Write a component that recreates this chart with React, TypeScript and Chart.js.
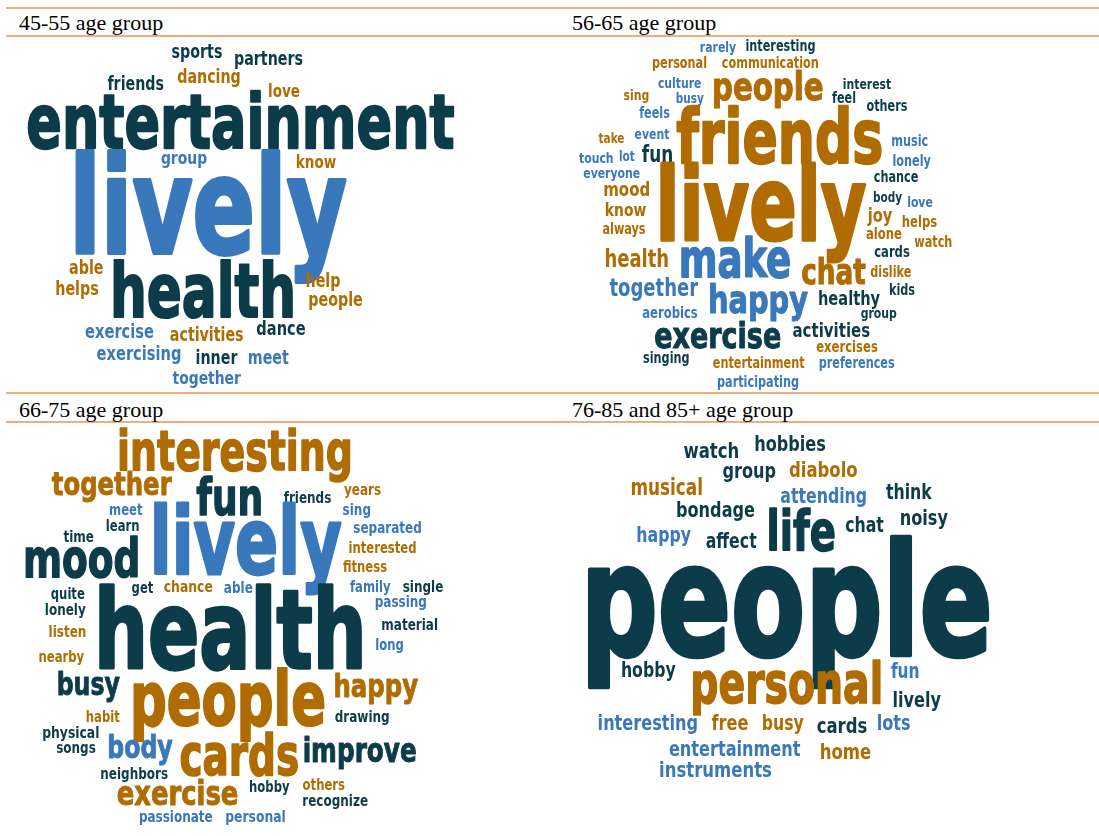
import React, { useEffect, useRef } from "react";
import { Chart, registerables } from "chart.js";

Chart.register(...registerables);

// ---------- data: words, weights (font size), colour group, cloud position ----------
// colour groups: D = dark teal, B = blue, O = orange
const p1Words = ["sports","partners","friends","dancing","love","entertainment","group","know","lively","able","helps","health","help","people","exercise","activities","dance","exercising","inner","meet","together"];
const p1Weights = [19,19,19,19,18,70,18.5,18,123,19,19,69,19,19,19.5,19,19.5,19.5,19,19,18.5];
const p1Groups = ["D","D","D","O","O","D","B","O","B","O","O","D","O","O","B","O","D","B","D","B","B"];
const p1X = [197,268.5,135.7,209,284,240.5,184,316,208,86.3,77,203,323,335.5,119.5,206.7,281,139,216.5,268.3,206.7];
const p1Y = [58.3,65,90,83.3,97.3,148.3,164,167.7,253.3,274,295,316.7,286.7,306,338.3,341,335,360,364,364,384];

const p2Words = ["rarely","interesting","personal","communication","culture","people","interest","sing","busy","feel","others","feels","friends","take","event","music","touch","lot","fun","lonely","everyone","chance","lively","mood","body","love","know","joy","helps","always","alone","watch","health","make","cards","chat","dislike","together","kids","happy","healthy","aerobics","group","exercise","activities","exercises","singing","entertainment","preferences","participating"];
const p2Weights = [14.5,15,15,15,14.5,39,14.5,14.5,14,15,15,15,69.5,14,14.5,15,14.5,14,22.5,15,14.5,15,93.5,20,14,14.5,18.5,19.5,15.5,15,15.5,15,24,49.5,15.5,35,15,24,15,38.5,19.5,15.5,14.5,36,20,15.5,15,15,15,15];
const p2Groups = ["B","D","O","O","B","O","D","O","B","D","D","B","O","O","B","B","B","B","D","B","B","D","O","O","D","B","O","O","O","O","O","O","O","B","D","O","O","B","D","B","D","B","D","D","D","O","D","O","B","B"];
const p2X = [718,780.5,679.5,770.3,679.7,767.8,867,636.3,689.7,844,887,654.5,779.7,611.5,652,909.7,596.3,626.8,657.5,911.7,611.7,896,761,626.7,887.5,920,625.5,880,919.5,624,884,933.3,636.8,735,892,833.5,890.8,653.8,902,758,849,670,878.8,717.7,831.3,847,666.3,758.7,856.7,758];
const p2Y = [51.7,50.7,68.3,68.3,88.3,100,89,100,103.3,103.3,111,118.3,163.3,143.3,139,146,163.3,161,161.7,165.7,178.3,181.7,240,196,201.7,206.7,216,221.7,227.3,234.3,239.3,247.3,266.7,276.7,257.3,284,277.3,296,295,313.3,305,317.7,318.3,348.3,337.3,351.7,363.3,368.3,367.7,386.7];

const p3Words = ["interesting","together","fun","friends","years","meet","sing","learn","separated","time","lively","interested","mood","fitness","get","chance","able","family","single","quite","passing","lonely","health","material","listen","long","nearby","busy","people","happy","habit","drawing","physical","songs","body","cards","improve","neighbors","exercise","hobby","others","recognize","passionate","personal"];
const p3Weights = [50.5,32.5,48,16,16,15.5,16,15.5,16,16,85,15.5,50,15.5,15.5,16.5,16,15.5,16,15.5,16,16,101,16,16,15.5,15.5,31.5,68.5,32.5,15.5,16,16.5,16,31.5,52,33,16,34.5,15.5,15.5,16,16,16.5];
const p3Groups = ["O","O","D","D","O","B","B","D","B","D","B","O","D","O","D","O","B","B","D","D","B","D","D","D","O","B","O","D","O","O","O","D","D","D","B","O","D","D","O","D","O","D","B","B"];
const p3X = [235,111.7,229.7,307.5,362.5,125.8,356.8,122.7,387.5,78.7,245.8,382.5,81.7,365,142.5,188.3,238.3,370.3,423,67.8,400.8,65.3,230.3,409.7,67.5,389.5,61.3,88.3,228,375.8,102.8,362.2,70.8,76,140,239.3,359.7,134.2,177.5,269.3,323.8,335.2,175.8,255.5];
const p3Y = [470,495,515,503.3,495,515,515,531,533.3,541.7,574,553.3,577,571.7,593.3,591.7,593.3,591.7,591.7,599.3,606.7,615,668.3,630,637.3,650,661.7,695,725,696.7,721.7,721.7,738.3,753.3,758.3,775,761.7,779.3,805,791.7,790,806,821.7,821.7];

const p4Words = ["watch","hobbies","group","diabolo","musical","attending","think","bondage","life","chat","noisy","happy","affect","people","hobby","personal","fun","lively","interesting","free","busy","cards","lots","entertainment","home","instruments"];
const p4Weights = [22,21.5,21.5,22,22.5,21,21,21.5,51.5,21,21.5,21,21,144,21,52.5,20.5,21.5,21.5,21.5,21,22,21.5,21.5,22,22];
const p4Groups = ["D","D","D","O","O","B","D","D","D","D","D","B","D","D","D","O","B","D","B","O","O","D","B","B","O","B"];
const p4X = [711.3,790,749.3,823.3,666.7,823.7,908.8,715.5,801.3,864.5,923.8,663.7,731.2,786.7,648.3,786.7,905.2,916.7,647.8,730,782.8,842,893.7,734.7,845.5,715.5];
const p4Y = [458.3,451,478.3,476.7,495,503.3,499,516.7,550,532.3,525,541.7,547.7,655,677.3,703.3,678.3,707.3,730,730,730,733.3,730,755.7,759.3,777.3];

const panelTitles = ["45-55 age group", "56-65 age group", "66-75 age group", "76-85 and 85+ age group"];

// ---------- styles ----------
const GROUP_COLORS: Record<string, string> = { D: "#0C3B49", B: "#3A78BC", O: "#B06C00" };
const WORD_FONT = "'DejaVu Sans', 'Liberation Sans', sans-serif";
const SQUEEZE_X = 0.75;
const W = 1099;
const H = 836;

const panels = [
  { words: p1Words, weights: p1Weights, groups: p1Groups, xs: p1X, ys: p1Y },
  { words: p2Words, weights: p2Weights, groups: p2Groups, xs: p2X, ys: p2Y },
  { words: p3Words, weights: p3Weights, groups: p3Groups, xs: p3X, ys: p3Y },
  { words: p4Words, weights: p4Weights, groups: p4Groups, xs: p4X, ys: p4Y },
];

const wordPlugin = {
  id: "wordcloudText",
  afterDatasetsDraw(chart: any) {
    const ctx = chart.ctx as CanvasRenderingContext2D;
    const xs = chart.scales.x;
    const ys = chart.scales.y;
    chart.data.datasets.forEach((ds: any) => {
      ds.data.forEach((pt: any, i: number) => {
        const px = xs.getPixelForValue(pt.x);
        const py = ys.getPixelForValue(pt.y);
        const size = ds.weights[i];
        const big = size >= 30;
        const sy = size >= 40 ? 1.08 : 1.0;
        const color = GROUP_COLORS[ds.groups[i]];
        ctx.save();
        ctx.translate(px, py);
        ctx.scale(SQUEEZE_X, sy);
        ctx.font = `bold ${size}px ${WORD_FONT}`;
        ctx.textAlign = "center";
        ctx.textBaseline = "alphabetic";
        ctx.fillStyle = color;
        ctx.fillText(ds.words[i], 0, 0);
        if (big) {
          ctx.strokeStyle = color;
          ctx.lineJoin = "round";
          ctx.lineWidth = size * 0.03;
          ctx.strokeText(ds.words[i], 0, 0);
        }
        ctx.restore();
      });
    });
  },
};

export default function App() {
  const ref = useRef<HTMLCanvasElement | null>(null);

  useEffect(() => {
    if (!ref.current) return;
    const chart = new Chart(ref.current, {
      type: "scatter",
      data: {
        datasets: panels.map((p, k) => ({
          label: panelTitles[k],
          data: p.words.map((_, i) => ({ x: p.xs[i], y: p.ys[i] })),
          words: p.words,
          weights: p.weights,
          groups: p.groups,
          pointRadius: 0,
          pointHoverRadius: 0,
          showLine: false,
        })) as any,
      },
      options: {
        animation: false,
        responsive: false,
        layout: { padding: 0 },
        events: [],
        plugins: { legend: { display: false }, tooltip: { enabled: false } },
        scales: {
          x: { type: "linear", min: 0, max: W, display: false },
          y: { type: "linear", min: 0, max: H, reverse: true, display: false },
        },
      },
      plugins: [wordPlugin],
    });
    return () => chart.destroy();
  }, []);

  const lineStyle = (top: number): React.CSSProperties => ({
    position: "absolute",
    left: 6,
    top,
    width: W - 6,
    height: 2,
    background: "#F2AD7F",
  });
  const titleStyle = (left: number, top: number): React.CSSProperties => ({
    position: "absolute",
    left,
    top,
    fontFamily: "'Liberation Serif', 'Times New Roman', serif",
    fontSize: 22,
    lineHeight: "22px",
    color: "#000",
    whiteSpace: "nowrap",
  });

  return (
    <div style={{ position: "absolute", left: 0, top: 0, width: W, height: H, background: "#fff", overflow: "hidden" }}>
      <div style={lineStyle(7)} />
      <div style={lineStyle(35)} />
      <div style={lineStyle(392)} />
      <div style={lineStyle(421)} />
      <div style={titleStyle(19, 11.5)}>{panelTitles[0]}</div>
      <div style={titleStyle(572, 11.5)}>{panelTitles[1]}</div>
      <div style={titleStyle(19, 398.5)}>{panelTitles[2]}</div>
      <div style={titleStyle(572, 398.5)}>{panelTitles[3]}</div>
      <canvas ref={ref} width={W} height={H} style={{ position: "absolute", left: 0, top: 0 }} />
    </div>
  );
}
